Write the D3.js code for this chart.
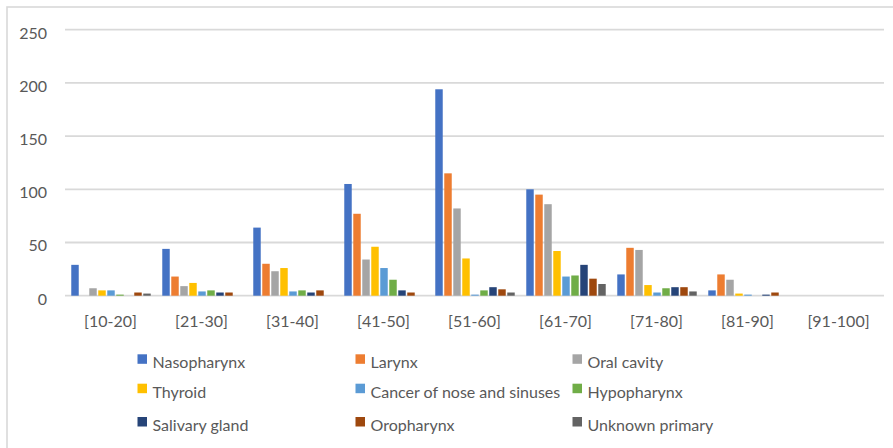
<!DOCTYPE html>
<html>
<head>
<meta charset="utf-8">
<script src="https://cdn.jsdelivr.net/npm/d3@7/dist/d3.min.js"></script>
<style>
  html, body { margin: 0; padding: 0; background: #fff; }
  svg { display: block; font-family: Lato, "Open Sans", sans-serif; }
</style>
</head>
<body>
<svg id="chart" width="893" height="448"></svg>
<script>
// Age groups on the x axis
const categories = ["[10-20]", "[21-30]", "[31-40]", "[41-50]", "[51-60]", "[61-70]", "[71-80]", "[81-90]", "[91-100]"];

// Cancer sites (series), in legend order
const seriesNames = ["Nasopharynx", "Larynx", "Oral cavity", "Thyroid", "Cancer of nose and sinuses",
                     "Hypopharynx", "Salivary gland", "Oropharynx", "Unknown primary"];

// Case counts per age group for each site
const nasopharynx   = [29, 44, 64, 105, 194, 100, 20, 5, 0];
const larynx        = [0, 18, 30, 77, 115, 95, 45, 20, 0];
const oralCavity    = [7, 9, 23, 34, 82, 86, 43, 15, 0];
const thyroid       = [5, 12, 26, 46, 35, 42, 10, 2, 0];
const noseSinuses   = [5, 4, 4, 26, 1, 18, 3, 1, 0];
const hypopharynx   = [1, 5, 5, 15, 5, 19, 7, 0, 0];
const salivaryGland = [0, 3, 3, 5, 8, 29, 8, 1, 0];
const oropharynx    = [3, 3, 5, 3, 6, 16, 8, 3, 0];
const unknownPrim   = [2, 0, 0, 0, 3, 11, 4, 0, 0];

const yTicks = [0, 50, 100, 150, 200, 250];

const seriesValues = [nasopharynx, larynx, oralCavity, thyroid, noseSinuses,
                      hypopharynx, salivaryGland, oropharynx, unknownPrim];
const colors = ["#4472C4", "#ED7D31", "#A5A5A5", "#FFC000", "#5B9BD5",
                "#70AD47", "#264478", "#9E480E", "#636363"];

const svg = d3.select("#chart");
const textColor = "#595959";
const gridColor = "#d9d9d9";

// Chart frame
svg.append("rect")
  .attr("x", 7).attr("y", 7)
  .attr("width", 920).attr("height", 480)
  .attr("fill", "none")
  .attr("stroke", gridColor)
  .attr("stroke-width", 1.6);

const plot = { left: 65, right: 884, top: 29.7, bottom: 295.7 };

const x = d3.scaleBand()
  .domain(categories)
  .range([plot.left, plot.right])
  .paddingInner(0)
  .paddingOuter(0);

const groupPad = 0.11;
const xInner = d3.scaleBand()
  .domain(seriesNames)
  .range([x.bandwidth() * groupPad / 2 + 0.5, x.bandwidth() * (1 - groupPad / 2) + 0.5])
  .paddingInner(0.17)
  .paddingOuter(0.085);

const y = d3.scaleLinear()
  .domain([0, 250])
  .range([plot.bottom, plot.top]);

// Horizontal gridlines
svg.append("g")
  .selectAll("line")
  .data(yTicks)
  .join("line")
  .attr("x1", plot.left).attr("x2", plot.right)
  .attr("y1", d => y(d)).attr("y2", d => y(d))
  .attr("stroke", gridColor)
  .attr("stroke-width", 1.8);

// Y axis labels
const yAxis = d3.axisLeft(y).tickValues(yTicks).tickSize(0).tickPadding(0);
const yG = svg.append("g")
  .attr("transform", `translate(47,0)`)
  .call(yAxis);
yG.select(".domain").remove();
yG.selectAll("text")
  .attr("fill", textColor)
  .attr("font-size", 16)
  .attr("font-family", "Lato, sans-serif")
  .attr("dy", "0.52em");

// X axis labels
const xAxis = d3.axisBottom(x).tickSize(0).tickPadding(0);
const xG = svg.append("g")
  .attr("transform", `translate(0,327)`)
  .call(xAxis);
xG.select(".domain").remove();
xG.selectAll("text")
  .attr("fill", textColor)
  .attr("font-size", 16)
  .attr("font-family", "Lato, sans-serif")
  .attr("dy", 0);

// Bars
const groups = svg.append("g")
  .selectAll("g")
  .data(categories)
  .join("g")
  .attr("transform", d => `translate(${x(d)},0)`);

groups.selectAll("rect")
  .data((c, ci) => seriesNames.map((s, si) => ({ s, si, v: seriesValues[si][ci] })))
  .join("rect")
  .filter(d => d.v > 0)
  .attr("x", d => xInner(d.s))
  .attr("width", xInner.bandwidth())
  .attr("y", d => y(d.v))
  .attr("height", d => y(0) - y(d.v))
  .attr("fill", d => colors[d.si]);

// Legend: 3 columns x 3 rows
const colX = [137.5, 355.5, 572.5];
const rowBase = [368.3, 397.7, 431];
const legend = svg.append("g")
  .selectAll("g")
  .data(seriesNames)
  .join("g")
  .attr("transform", (d, i) => `translate(${colX[i % 3]},${rowBase[Math.floor(i / 3)]})`);

legend.append("rect")
  .attr("x", 0).attr("y", -14)
  .attr("width", 9.5).attr("height", 9.5)
  .attr("fill", (d, i) => colors[i]);

legend.append("text")
  .attr("x", 15).attr("y", 0)
  .attr("fill", textColor)
  .attr("font-size", 16)
  .text(d => d);
</script>
</body>
</html>
